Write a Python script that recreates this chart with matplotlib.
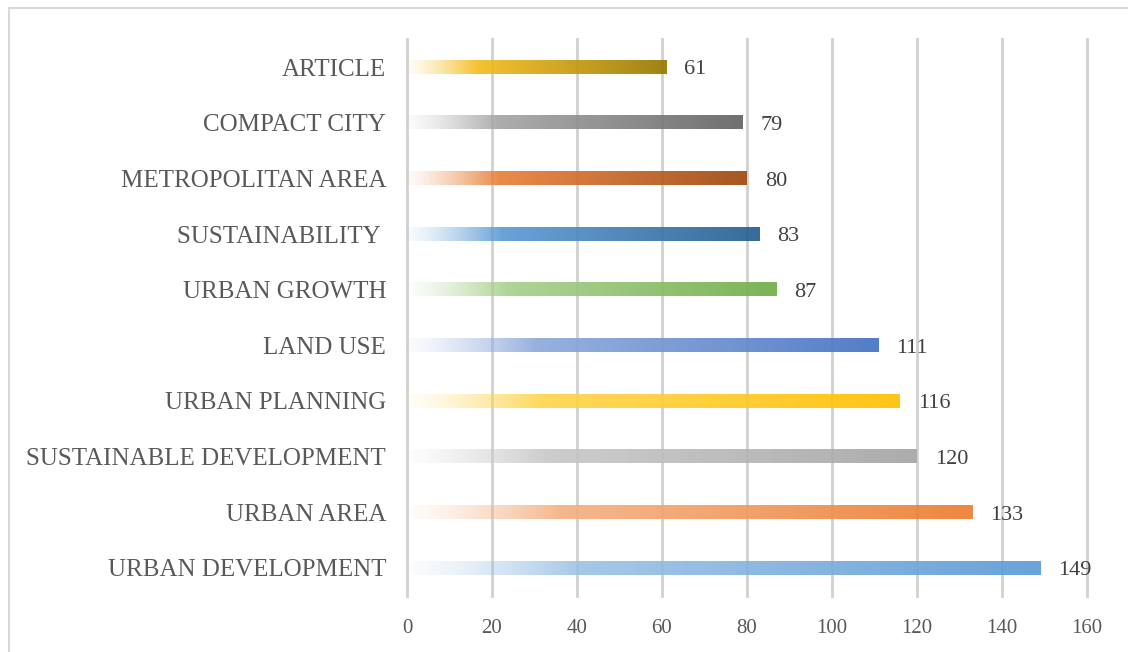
import numpy as np
import matplotlib
matplotlib.use("Agg")
import matplotlib.pyplot as plt
from matplotlib.colors import to_rgb
from matplotlib.patches import Rectangle

# Keyword frequencies (bottom to top)
keywords = [
    "URBAN DEVELOPMENT",
    "URBAN AREA",
    "SUSTAINABLE DEVELOPMENT",
    "URBAN PLANNING",
    "LAND USE",
    "URBAN GROWTH",
    "SUSTAINABILITY ",
    "METROPOLITAN AREA",
    "COMPACT CITY",
    "ARTICLE",
]
counts = [149, 133, 120, 116, 111, 87, 83, 80, 79, 61]

# Gradient colours per bar: tint near the left, full colour at the end
mid_colors = ["#9dc3e6", "#f4b183", "#c9c9c9", "#ffd54f", "#8faadc",
              "#a9d18e", "#5b9bd5", "#e8803a", "#a6a6a6", "#f5bd1f"]
end_colors = ["#5b9bd5", "#ed7d31", "#a5a5a5", "#ffc000", "#4472c4",
              "#70ad47", "#255e91", "#9e480e", "#636363", "#977800"]

xticks = [0, 20, 40, 60, 80, 100, 120, 140, 160]

plt.rcParams["font.family"] = ["Liberation Serif", "DejaVu Serif"]
text_color = "#595959"

fig = plt.figure(figsize=(11.28, 6.52), dpi=100)
fig.patches.append(Rectangle((9 / 1128, -0.05), 1.2, 1 - 8 / 652 + 0.05,
                             transform=fig.transFigure, fill=False,
                             edgecolor="#d9d9d9", linewidth=1.5))

ax = fig.add_axes([407 / 1128, (652 - 595.8) / 652,
                   (1087 - 407) / 1128, (595.8 - 39.2) / 652])

bar_h = 0.24
n = 256
for i, (v, c0, c1) in enumerate(zip(counts, mid_colors, end_colors)):
    t = np.linspace(0, 1, n)
    a = np.asarray(to_rgb(c0))
    b = np.asarray(to_rgb(c1))
    k = 0.27
    rgb = np.where((t < k)[:, None], a[None, :],
                   a[None, :] + (b - a)[None, :] * ((t - k) / (1 - k))[:, None])
    alpha = np.clip(t / k, 0, 1) ** 1.3
    alpha = 0.04 + 0.88 * alpha
    img = np.dstack([rgb[None, :, 0], rgb[None, :, 1], rgb[None, :, 2], alpha[None, :]])
    ax.imshow(img, extent=[0, v, i - bar_h / 2, i + bar_h / 2],
              aspect="auto", interpolation="bilinear", zorder=3)
    ax.text(v + 4.2, i - 0.05, str(v), ha="left", va="center",
            fontsize=16, color="#404040", zorder=4)

ax.set_xlim(0, 160)
ax.set_ylim(-0.5, len(keywords) - 0.5)
ax.set_xticks(xticks)
ax.set_xticklabels([str(x) for x in xticks])
ax.set_yticks(range(len(keywords)))
ax.set_yticklabels(keywords)
ax.xaxis.grid(True, color="#d0d0d0", linewidth=2, zorder=1)
for gl in ax.get_xgridlines():
    gl.set_clip_on(False)
ax.set_axisbelow(True)
for s in ax.spines.values():
    s.set_visible(False)
ax.tick_params(axis="x", length=0, pad=17, labelsize=15, labelcolor=text_color)
ax.tick_params(axis="y", length=0, pad=15, labelsize=18, labelcolor=text_color)

fig.savefig("out.png", dpi=100)
